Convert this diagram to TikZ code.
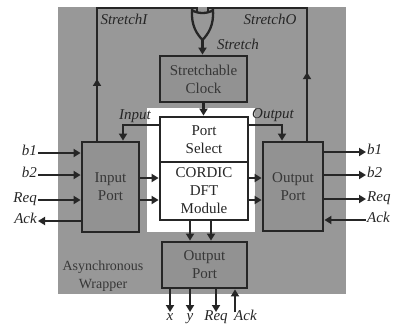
\documentclass[tikz,border=0pt]{standalone}
\usepackage{fontspec}
\setmainfont{Liberation Serif}
\usetikzlibrary{arrows.meta, decorations.markings}
\definecolor{wrapgray}{RGB}{152,152,152}
\definecolor{boxgray}{RGB}{146,146,146}
\definecolor{inkdark}{RGB}{38,38,38}
\definecolor{txtgray}{RGB}{55,55,55}

\begin{document}
\begin{tikzpicture}[
  x=1pt, y=-1pt,
  >={Triangle[length=7pt, width=8pt]},
  wire/.style={inkdark, line width=2.3pt},
  block/.style={draw=inkdark, line width=2.8pt, fill=boxgray, align=center,
                inner sep=0pt, text=txtgray, font=\fontsize{15}{18}\selectfont},
  core/.style={block, fill=white, text=inkdark},
  sig/.style={font=\fontsize{15}{18}\selectfont\itshape, text=inkdark,
              inner sep=1pt, text height=1.5ex, text depth=.25ex},
  midarrow/.style={postaction={decorate},
                   decoration={markings, mark=at position #1 with {\arrow{>}}}},
]
\useasboundingbox (0,0) rectangle (398,327);
\fill[white] (0,0) rectangle (398,327);

% wrapper and synchronous island
\fill[wrapgray] (58,7) rectangle (346,294);
\fill[white] (147,108) rectangle (255,232);

% blocks
\node[block, minimum width=87pt, minimum height=46pt] (clock) at (203.5,79) {Stretchable\\Clock};
\node[core, minimum width=88pt, minimum height=45pt] (select) at (204,139.5) {Port\\Select};
\node[core, minimum width=88pt, minimum height=58pt] (cordic) at (204,191) {CORDIC\\DFT\\Module};
\node[block, minimum width=57pt, minimum height=90pt] (inport) at (110.5,187) {Input\\Port};
\node[block, minimum width=60pt, minimum height=89pt] (outport) at (293,186.5) {Output\\Port};
\node[block, minimum width=85pt, minimum height=46pt] (botport) at (204.5,265) {Output\\Port};

% stretch gate
\draw[wire, fill=wrapgray] (192,10) .. controls (197,14) and (208,14) .. (213,10)
  .. controls (214,26) and (208,34) .. (202.5,40)
  .. controls (197,34) and (191,26) .. (192,10) -- cycle;
\coordinate (gin1) at (197,12.5);
\coordinate (gin2) at (208,12.5);
\coordinate (gout) at (202.5,40);

% stretch wiring
\node[sig] (stri) at (124,22) {StretchI};
\node[sig] (stro) at (270,22) {StretchO};
\node[sig] (str) at (238,47) {Stretch};
\draw[wire, midarrow=0.26] (inport.north -| 97,0) |- (197,8) -- (gin1);
\draw[wire, midarrow=0.29] (outport.north -| 307,0) |- (208,8) -- (gin2);
\draw[wire, ->] (gout) -- (clock.north -| gout);
\draw[wire, ->] (clock.south) -- (clock.south |- select.north);

% port select
\node[sig] (lin) at (135,117) {Input};
\node[sig] (lout) at (273,116) {Output};
\draw[wire, ->] (select.west |- 0,125) -| (123,0 |- inport.north);
\draw[wire, ->] (select.east |- 0,125) -| (282,0 |- outport.north);

% left handshake
\foreach \n/\t/\y in {lb1/b1/153, lb2/b2/175, lreq/Req/200}{
  \node[sig, anchor=east] (\n) at (38,\y) {\t};
  \draw[wire, ->] (\n.east) -- (\n.east -| inport.west);
}
\node[sig, anchor=east] (lack) at (38,221) {Ack};
\draw[wire, ->] (lack.east -| inport.west) -- (lack.east);

% right handshake
\foreach \n/\t/\y in {rb1/b1/152, rb2/b2/175, rreq/Req/199}{
  \node[sig, anchor=west] (\n) at (366,\y) {\t};
  \draw[wire, ->] (\n.west -| outport.east) -- (\n.west);
}
\node[sig, anchor=west] (rack) at (366,220) {Ack};
\draw[wire, ->] (rack.west) -- (rack.west -| outport.east);

% data path
\foreach \y in {178,200}{
  \draw[wire, ->] (inport.east |- 0,\y) -- (cordic.west |- 0,\y);
  \draw[wire, ->] (cordic.east |- 0,\y) -- (outport.west |- 0,\y);
}
\foreach \x in {190,211}{
  \draw[wire, ->] (cordic.south -| \x,0) -- (botport.north -| \x,0);
}

% bottom outputs
\foreach \n/\t/\x in {bx/x/170, by/y/190, breq/Req/216}{
  \node[sig, anchor=north] (\n) at (\x,312) {\t};
  \draw[wire, ->] (\n.north |- botport.south) -- (\n.north);
}
\node[sig, anchor=north west] (back) at (233,312) {Ack};
\draw[wire, ->] ([xshift=2pt]back.north west) -- ([xshift=2pt]back.north west |- botport.south);

\node[font=\fontsize{14}{18}\selectfont, text=txtgray, align=center] (wraplbl) at (103,276)
  {Asynchronous\\Wrapper};

\end{tikzpicture}
\end{document}
